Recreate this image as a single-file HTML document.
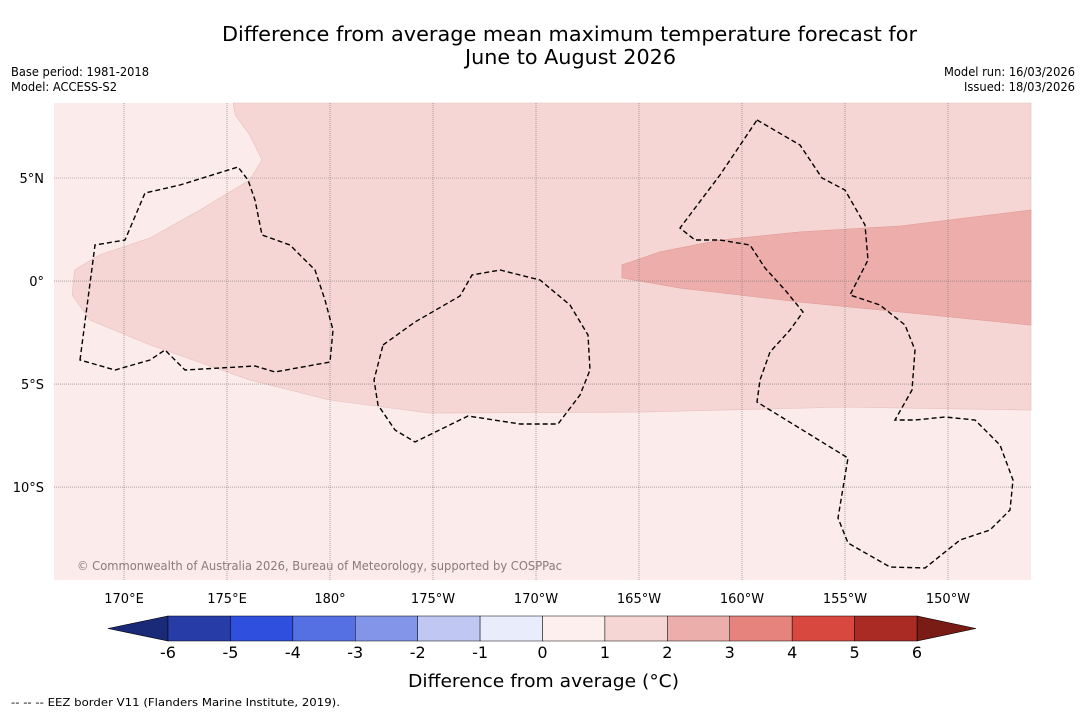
<!DOCTYPE html>
<html><head><meta charset="utf-8"><style>
body{margin:0;background:#fff;width:1085px;height:713px;overflow:hidden;font-family:"DejaVu Sans",sans-serif}
</style></head><body>
<svg width="1085" height="713" viewBox="0 0 1085 713" xmlns="http://www.w3.org/2000/svg" font-family="DejaVu Sans, sans-serif">
<text x="222" y="41" font-size="20" textLength="695" lengthAdjust="spacingAndGlyphs">Difference from average mean maximum temperature forecast for</text>
<text x="465" y="64" font-size="20" textLength="211" lengthAdjust="spacingAndGlyphs">June to August 2026</text>
<text x="11" y="76" font-size="12" textLength="138" lengthAdjust="spacingAndGlyphs">Base period: 1981-2018</text>
<text x="11" y="91" font-size="12" textLength="106" lengthAdjust="spacingAndGlyphs">Model: ACCESS-S2</text>
<text x="944" y="76" font-size="12" textLength="131" lengthAdjust="spacingAndGlyphs">Model run: 16/03/2026</text>
<text x="964" y="91" font-size="12" textLength="111" lengthAdjust="spacingAndGlyphs">Issued: 18/03/2026</text>
<g id="map"></g>
<g id="cbar"></g>
<text x="408" y="687" font-size="18" textLength="271" lengthAdjust="spacingAndGlyphs">Difference from average (°C)</text>
<text x="11" y="706" font-size="11" textLength="329" lengthAdjust="spacingAndGlyphs">--  --  -- EEZ border V11 (Flanders Marine Institute, 2019).</text>
</svg>
<script>
const lonTicks=[170,175,180,185,190,195,200,205,210];
const lonLabels=["170°E","175°E","180°","175°W","170°W","165°W","160°W","155°W","150°W"];
const latTicks=[5,0,-5,-10];
const latLabels=["5°N","0°","5°S","10°S"];
const levels=[-6,-5,-4,-3,-2,-1,0,1,2,3,4,5,6];
const levelColors=["#283ca8","#2f4fdf","#5470e2","#8395e9","#c0c7f3","#e9ecfa","#fcefee","#f5d6d4","#ecaeaa","#e5837c","#d9483e","#aa2b23"];
const bandLon=[175.3,214.03,214.03,205.0,195.05,184.85,180,176.1,171.26,168.35,167.48,167.6,168.8,171.26,173.7,176.1,176.7,176.1,175.4];
const bandLat=[8.64,8.64,-6.26,-6.12,-6.36,-6.41,-5.78,-4.8,-3.1,-1.9,-0.68,0.53,1.26,2.09,3.45,4.9,5.87,7.09,8.06];
const hotLon=[194.17,196.0,198.93,202.8,207.67,214.03,214.03,207.67,202.8,196.99,194.17];
const hotLat=[0.78,1.41,1.99,2.38,2.67,3.45,-2.14,-1.5,-1.02,-0.34,0.15];
const NS="http://www.w3.org/2000/svg";
const X0=54,X1=1031,Y0=103,Y1=580,LON0=166.6,LON1=214.03,LAT0=8.64,LAT1=-14.51;
const xs=l=>X0+(l-LON0)/(LON1-LON0)*(X1-X0);
const ys=l=>Y0+(l-LAT0)/(LAT1-LAT0)*(Y1-Y0);
function mk(p,tag,a){const e=document.createElementNS(NS,tag);for(const k in a)e.setAttribute(k,a[k]);p.appendChild(e);return e;}
const map=document.getElementById('map');
let r=mk(map,'rect',{x:X0,y:Y0,width:X1-X0,height:Y1-Y0,fill:'#fbebea'});


let p=mk(map,'polygon',{points:bandLon.map((l,i)=>xs(l)+','+ys(bandLat[i])).join(' '),fill:'#f5d6d4',stroke:'#e8c0bd','stroke-width':0.6});


p=mk(map,'polygon',{points:hotLon.map((l,i)=>xs(l)+','+ys(hotLat[i])).join(' '),fill:'#edaeab',stroke:'#e09b97','stroke-width':0.6});


lonTicks.forEach((l,i)=>{const x=xs(l);
let g=mk(map,'line',{x1:x,x2:x,y1:Y0,y2:Y1,stroke:'#777','stroke-width':0.6,'stroke-dasharray':'1 1'});


let t=mk(map,'text',{x:x,y:603,'font-size':13,'text-anchor':'middle'});t.textContent=lonLabels[i];

});
latTicks.forEach((l,i)=>{const y=ys(l);
let g=mk(map,'line',{x1:X0,x2:X1,y1:y,y2:y,stroke:'#777','stroke-width':0.6,'stroke-dasharray':'1 1'});


let t=mk(map,'text',{x:44,y:y+5,'font-size':13,'text-anchor':'end'});t.textContent=latLabels[i];

});
const eez=["M80,360 L95,245 L125,240 L145,193 L180,185 L238,167 L248,180 L255,200 L262,235 L290,245 L315,270 L325,300 L333,330 L330,362 L275,372 L255,366 L185,370 L165,350 L150,360 L115,370 Z",
"M383,345 L415,322 L460,296 L472,275 L500,270 L540,280 L570,305 L588,335 L590,370 L580,395 L558,424 L520,424 L468,416 L415,442 L395,430 L378,405 L374,380 Z",
"M757,120 L800,145 L822,178 L845,190 L865,225 L868,260 L850,295 L880,305 L905,325 L915,350 L912,390 L895,420 L915,420 L945,417 L975,420 L1000,445 L1013,480 L1010,510 L990,530 L960,540 L925,568 L890,567 L848,543 L838,518 L848,458 L757,402 L760,380 L770,352 L790,330 L803,312 L785,290 L765,268 L750,245 L720,240 L695,240 L680,228 L720,175 Z"];
eez.forEach(d=>{let e=mk(map,'path',{d:d,fill:'none',stroke:'#000','stroke-width':1.4,'stroke-dasharray':'5 3'});

});
let c=mk(map,'text',{x:77,y:570,'font-size':12,fill:'#8a7a7a',textLength:485,lengthAdjust:'spacingAndGlyphs'});c.textContent='© Commonwealth of Australia 2026, Bureau of Meteorology, supported by COSPPac';


const cb=document.getElementById('cbar');const CX0=168,CX1=917,CY=616,CH=25;const bw=(CX1-CX0)/levelColors.length;
let a=mk(cb,'polygon',{points:`108,${CY+CH/2} ${CX0},${CY} ${CX0},${CY+CH}`,fill:'#1b2a78',stroke:'#000','stroke-width':0.6});


a=mk(cb,'polygon',{points:`976,${CY+CH/2} ${CX1},${CY} ${CX1},${CY+CH}`,fill:'#781c15',stroke:'#000','stroke-width':0.6});


levelColors.forEach((col,i)=>{let b=mk(cb,'rect',{x:CX0+i*bw,y:CY,width:bw,height:CH,fill:col,stroke:'#000','stroke-width':0.5});

});
levels.forEach((v,i)=>{let t=mk(cb,'text',{x:CX0+i*bw,y:658,'font-size':16,'text-anchor':'middle'});t.textContent=v;

});
</script>
</body></html>
